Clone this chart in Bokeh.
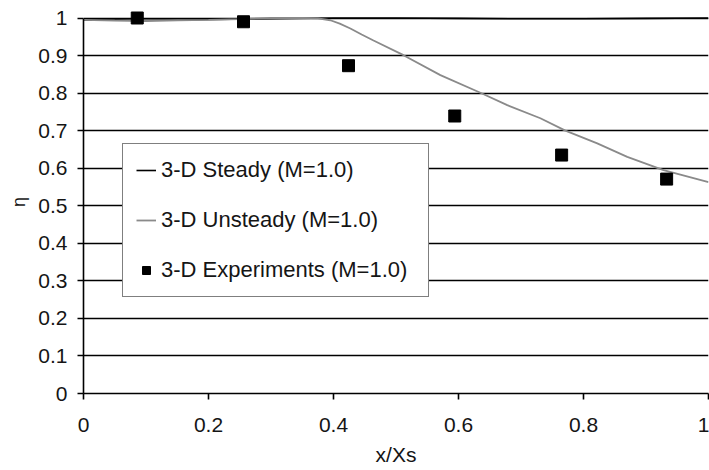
from bokeh.plotting import figure
from bokeh.models import Range1d, FixedTicker, Legend, LegendItem
from bokeh.embed import file_html
from bokeh.resources import INLINE

# ---- data ----
steady_x = [0.0, 0.1, 0.2, 0.3, 0.4, 0.5, 0.6, 0.7, 0.8, 0.9, 1.0]
steady_y = [0.995, 0.994, 0.996, 0.998, 1.0, 1.0, 0.999, 0.998, 0.998, 0.999, 1.0]

unsteady_x = [0.0, 0.05, 0.1, 0.15, 0.2, 0.25, 0.3, 0.35, 0.375, 0.395, 0.41, 0.427,
              0.445, 0.464, 0.512, 0.571, 0.635, 0.678, 0.731, 0.771, 0.822, 0.870,
              0.928, 1.0]
unsteady_y = [0.995, 0.993, 0.992, 0.994, 0.995, 0.997, 1.0, 1.0, 0.999, 0.994, 0.985, 0.972,
              0.956, 0.940, 0.901, 0.848, 0.801, 0.768, 0.733, 0.700, 0.666, 0.630,
              0.595, 0.563]

exp_x = [0.086, 0.256, 0.424, 0.594, 0.765, 0.933]
exp_y = [1.0, 0.99, 0.873, 0.739, 0.635, 0.571]

x_ticks = [0, 0.2, 0.4, 0.6, 0.8, 1]
x_tick_labels = ["0", "0.2", "0.4", "0.6", "0.8", "1"]
y_ticks = [0, 0.1, 0.2, 0.3, 0.4, 0.5, 0.6, 0.7, 0.8, 0.9, 1]
y_tick_labels = ["0", "0.1", "0.2", "0.3", "0.4", "0.5", "0.6", "0.7", "0.8", "0.9", "1"]

series_labels = ["3-D Steady (M=1.0)", "3-D Unsteady (M=1.0)", "3-D Experiments (M=1.0)"]

FONT = "Liberation Sans"

p = figure(width=709, height=470, output_backend="svg", toolbar_location=None,
           x_range=Range1d(0, 1), y_range=Range1d(0, 1.02),
           min_border_left=83, min_border_right=1, min_border_top=10, min_border_bottom=77)
p.outline_line_color = None
p.background_fill_color = "white"
p.border_fill_color = "white"

# axes
for ax in (p.xaxis[0], p.yaxis[0]):
    ax.axis_line_color = "black"
    ax.axis_line_width = 1.6
    ax.major_tick_line_color = "black"
    ax.major_tick_line_width = 1.6
    ax.major_tick_out = 6
    ax.major_tick_in = 0
    ax.minor_tick_line_color = None
    ax.major_label_text_font = FONT
    ax.major_label_text_font_size = "21px"
    ax.major_label_text_color = "#151515"
    ax.axis_label_text_font = FONT
    ax.axis_label_text_font_size = "21px"
    ax.axis_label_text_font_style = "normal"
    ax.axis_label_text_color = "#151515"

p.xaxis.ticker = FixedTicker(ticks=x_ticks)
p.xaxis.major_label_overrides = dict(zip(x_ticks, x_tick_labels))
p.xaxis.axis_label = "x/Xs"
p.xaxis.major_label_standoff = 18
p.xaxis.axis_label_standoff = 8

p.yaxis.ticker = FixedTicker(ticks=y_ticks)
p.yaxis.major_label_overrides = dict(zip(y_ticks, y_tick_labels))
p.yaxis.axis_label = "η"
p.yaxis.axis_label_text_font_size = "18px"
p.yaxis.bounds = (0, 1)
p.yaxis.major_label_standoff = 10
p.yaxis.axis_label_standoff = 6

p.xgrid.visible = False
p.ygrid.ticker = FixedTicker(ticks=y_ticks)
p.ygrid.grid_line_color = "black"
p.ygrid.grid_line_width = 1.3

r_steady = p.line(steady_x, steady_y, line_color="black", line_width=1.6)
r_unsteady = p.line(unsteady_x, unsteady_y, line_color="#8a8a8a", line_width=1.8)
r_exp = p.scatter(exp_x, exp_y, marker="square", size=12, fill_color="black", line_color="black")

legend = Legend(items=[
    LegendItem(label=series_labels[0], renderers=[r_steady]),
    LegendItem(label=series_labels[1], renderers=[r_unsteady]),
    LegendItem(label=series_labels[2], renderers=[r_exp]),
], location=(39, 96))
legend.padding = 13
legend.spacing = 24
legend.margin = 0
legend.label_height = 20
legend.glyph_height = 20
legend.glyph_width = 20
legend.label_standoff = 5
legend.label_width = 254
legend.border_line_color = "black"
legend.border_line_width = 1.3
legend.background_fill_color = "white"
legend.background_fill_alpha = 1.0
legend.label_text_font = FONT
legend.label_text_font_size = "22px"
legend.label_text_color = "#151515"
p.add_layout(legend)

open("out.html", "w").write(file_html(p, INLINE))
